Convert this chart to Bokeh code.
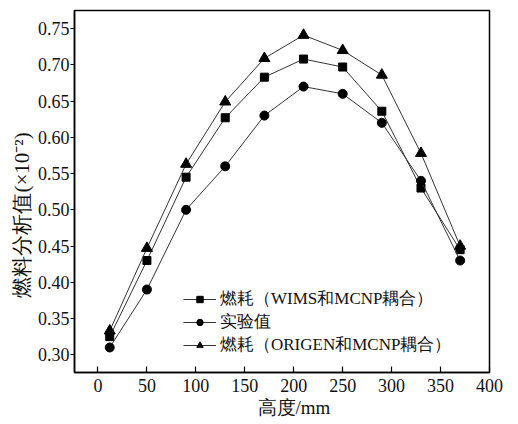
from bokeh.plotting import figure
from bokeh.models import Range1d, FixedTicker, PrintfTickFormatter, Legend, LegendItem, Title
from bokeh.embed import file_html
from bokeh.resources import INLINE

height_mm = [12, 50, 90, 130, 170, 210, 250, 290, 330, 370]
wims_mcnp = [0.325, 0.430, 0.545, 0.627, 0.683, 0.708, 0.697, 0.636, 0.530, 0.445]
experiment = [0.310, 0.390, 0.500, 0.560, 0.630, 0.670, 0.660, 0.620, 0.540, 0.430]
origen_mcnp = [0.333, 0.447, 0.563, 0.649, 0.709, 0.741, 0.720, 0.686, 0.578, 0.450]

series_names = ["燃耗（WIMS和MCNP耦合）", "实验值", "燃耗（ORIGEN和MCNP耦合）"]
x_ticks = [0, 50, 100, 150, 200, 250, 300, 350, 400]
y_ticks = [0.30, 0.35, 0.40, 0.45, 0.50, 0.55, 0.60, 0.65, 0.70, 0.75]
x_title = "高度/mm"
y_title = "燃料分析值(×10⁻²)"

SERIF = "Liberation Serif"

p = figure(width=510, height=420, output_backend="svg", toolbar_location=None,
           x_range=Range1d(-24, 400), y_range=Range1d(0.2755, 0.775),
           min_border_left=74, min_border_right=21, min_border_top=10, min_border_bottom=40)
p.frame_width = 415
p.frame_height = 362

p.xgrid.visible = False
p.ygrid.visible = False
p.outline_line_color = "black"
p.outline_line_width = 1.5
p.background_fill_color = "white"
p.border_fill_color = "white"

p.xaxis.ticker = FixedTicker(ticks=x_ticks)
p.yaxis.ticker = FixedTicker(ticks=y_ticks)
p.yaxis.formatter = PrintfTickFormatter(format="%.2f")

for ax in (p.xaxis[0], p.yaxis[0]):
    ax.axis_line_width = 1.5
    ax.axis_line_color = "black"
    ax.major_tick_line_color = "black"
    ax.major_tick_line_width = 1.2
    ax.minor_tick_line_color = None
    ax.major_label_text_font = SERIF
    ax.major_label_text_font_size = "18px"
    ax.major_label_text_color = "#111111"

p.xaxis.major_tick_in = 6
p.xaxis.major_tick_out = 0
p.xaxis.major_label_standoff = 6
p.yaxis.major_tick_in = 0
p.yaxis.major_tick_out = 4
p.yaxis.major_label_standoff = 1

# axis titles as side-panel titles, anchored at their start with an offset along the axis
p.add_layout(Title(text=x_title, align="left", offset=183, standoff=4, vertical_align="top",
                   text_font=SERIF, text_font_size="19px", text_font_style="normal",
                   text_color="#111111"), "below")
p.add_layout(Title(text=y_title, align="left", offset=75, standoff=1,
                   text_font=SERIF, text_font_size="21px", text_font_style="normal",
                   text_color="#111111"), "left")

line_color = "#333333"
items = []
specs = [(wims_mcnp, "square", 8), (experiment, "circle", 9), (origen_mcnp, "triangle", 11)]
for (ys, marker, size), name in zip(specs, series_names):
    l = p.line(height_mm, ys, line_color=line_color, line_width=1)
    s = p.scatter(height_mm, ys, marker=marker, size=size, fill_color="black", line_color="black")
    items.append(LegendItem(label=name, renderers=[l, s]))

legend = Legend(items=items, location=(109, 16), padding=0, spacing=0, margin=0,
                glyph_width=33, glyph_height=16, label_height=16, label_standoff=4,
                label_text_font=SERIF, label_text_font_size="17px", label_text_color="#111111",
                border_line_color=None, background_fill_alpha=0)
p.add_layout(legend)

open("out.html", "w").write(file_html(p, INLINE))
